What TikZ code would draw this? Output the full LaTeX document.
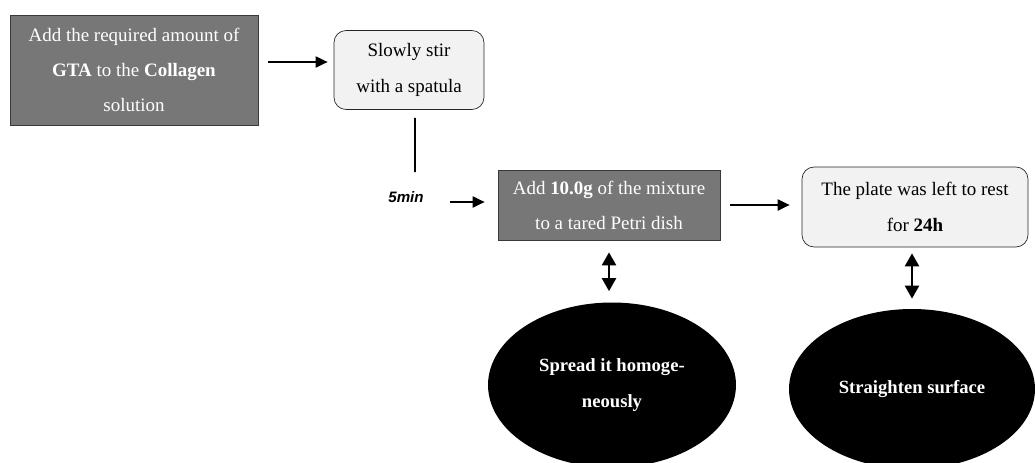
\documentclass[tikz,border=0pt]{standalone}
\usepackage{fontspec}
\setmainfont{Liberation Serif}
\setsansfont{Liberation Sans}
\usetikzlibrary{arrows.meta, shapes.geometric}

\definecolor{stepgray}{HTML}{777777}
\definecolor{stepedge}{HTML}{3A3A3A}
\definecolor{steplight}{HTML}{F2F2F2}

\tikzset{
	darkbox/.style={draw=stepedge, fill=stepgray, text=white, align=center, inner sep=0pt, font=\fontsize{10.8}{20}\selectfont},
	lightbox/.style={draw=black!85, fill=steplight, rounded corners=0.24cm, align=center, inner sep=0pt, font=\fontsize{10.8}{20.5}\selectfont},
	blob/.style={ellipse, fill=black, text=white, align=center, inner sep=0pt, font=\bfseries\fontsize{10.6}{20}\selectfont},
	flow/.style={line width=1.1pt, -{Triangle[length=0.24cm, width=0.22cm]}},
	twoway/.style={line width=1.3pt, {Triangle[length=0.26cm, width=0.28cm]}-{Triangle[length=0.26cm, width=0.28cm]}}
}

\begin{document}
\begin{tikzpicture}[x=0.02cm, y=-0.02cm]

	\useasboundingbox (0,0) rectangle (1035,463);

	\node[darkbox, minimum width=4.96cm, minimum height=2.2cm] (gta) at (134,70) {Add the required amount of\\ \textbf{GTA} to the \textbf{Collagen}\\ solution};
	\node[lightbox, minimum width=3.0cm, minimum height=1.58cm] (stir) at (409,70) {Slowly stir\\ with a spatula};
	\node[darkbox, minimum width=4.44cm, minimum height=1.4cm] (mix) at (609,205) {Add \textbf{10.0g} of the mixture\\ to a tared Petri dish};
	\node[lightbox, minimum width=4.52cm, minimum height=1.6cm] (rest) at (915,207) {The plate was left to rest\\ for \textbf{24h}};
	\node[font=\sffamily\bfseries\itshape\fontsize{8.6}{10}\selectfont] (wait) at (406,197) {5min};

	\node[blob, minimum width=4.96cm, minimum height=3.3cm] (spread) at (612,385) {Spread it homoge-\\ neously};
	\node[blob, minimum width=4.92cm, minimum height=3.2cm] (flat) at (912,389) {Straighten surface};

	\coordinate (drop) at (415,172);

	\draw[flow, shorten <=0.2cm, shorten >=0.12cm] ([yshift=0.16cm]gta.east) -- ([yshift=0.16cm]stir.west);
	\draw[line width=1.1pt, shorten <=0.16cm] ([xshift=0.12cm]stir.south) -- (drop);
	\draw[flow, shorten <=0.4cm, shorten >=0.26cm] ([yshift=-0.1cm]wait.east) -- ([yshift=-0.1cm]wait.east -| mix.west);
	\draw[flow, shorten <=0.2cm, shorten >=0.24cm] (mix.east) -- (mix.east -| rest.west);
	\draw[twoway, shorten <=0.24cm, shorten >=0.22cm] (mix.south) -- (mix.south |- spread.north);
	\draw[twoway, shorten <=0.12cm, shorten >=0.2cm] ([xshift=-0.06cm]rest.south) -- ([xshift=-0.06cm]rest.south |- flat.north);

\end{tikzpicture}
\end{document}
